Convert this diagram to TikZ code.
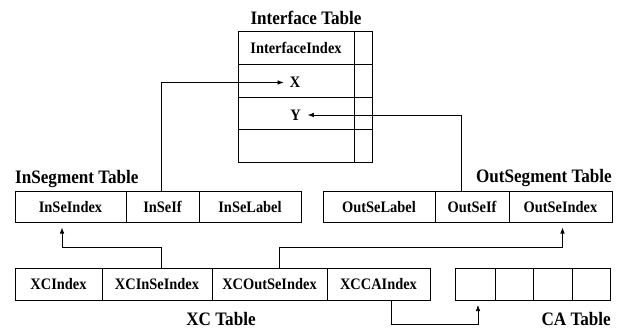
\documentclass[tikz,border=0pt]{standalone}
\usepackage{fontspec}
\setmainfont{Liberation Serif}[FakeStretch=0.9]
\usetikzlibrary{arrows.meta}
\begin{document}
\begin{tikzpicture}[x=1pt,y=-1pt,
  cell/.style={draw, line width=1pt, inner sep=0pt, outer sep=0pt, font=\fontsize{16}{18}\selectfont\bfseries},
  ttl/.style={inner sep=0pt, font=\fontsize{19}{21}\selectfont\bfseries},
  lbl/.style={inner sep=0pt, font=\fontsize{16}{18}\selectfont\bfseries},
  conn/.style={line width=0.6pt, -{Latex[length=6pt,width=4.5pt]}}]
\useasboundingbox (0,0) rectangle (628,329);
% Interface table
\node[ttl, anchor=base] (ititle) at (306,25) {Interface Table};
\node[cell, minimum width=116pt, minimum height=32pt] (if1) at (296,48) {InterfaceIndex};
\node[cell, minimum width=18pt, minimum height=32pt] (if1r) at (363,48) {};
\node[cell, minimum width=116pt, minimum height=33pt] (if2) at (296,80.5) {};
\node[cell, minimum width=18pt, minimum height=33pt] (if2r) at (363,80.5) {};
\node[cell, minimum width=116pt, minimum height=32pt] (if3) at (296,113) {};
\node[cell, minimum width=18pt, minimum height=32pt] (if3r) at (363,113) {};
\node[cell, minimum width=116pt, minimum height=33pt] (if4) at (296,145.5) {};
\node[cell, minimum width=18pt, minimum height=33pt] (if4r) at (363,145.5) {};
\node[lbl] (xl) at (295,82.5) {X};
\node[lbl] (yl) at (295.5,115) {Y};
% InSegment table
\node[ttl, anchor=base west] (intitle) at (15,183) {InSegment Table};
\node[cell, minimum width=111pt, minimum height=31pt] (inidx) at (70.5,207) {InSeIndex};
\node[cell, minimum width=73pt, minimum height=31pt] (inif) at (162.5,207) {InSeIf};
\node[cell, minimum width=102pt, minimum height=31pt] (inlab) at (250,207) {InSeLabel};
% OutSegment table
\node[ttl, anchor=base east] (outtitle) at (612,182) {OutSegment Table};
\node[cell, minimum width=112pt, minimum height=31pt] (outlab) at (379,207) {OutSeLabel};
\node[cell, minimum width=74pt, minimum height=31pt] (outif) at (472,207) {OutSeIf};
\node[cell, minimum width=103pt, minimum height=31pt] (outidx) at (560.5,207) {OutSeIndex};
% XC table
\node[cell, minimum width=87pt, minimum height=32pt] (xc1) at (58.5,284) {XCIndex};
\node[cell, minimum width=110pt, minimum height=32pt] (xc2) at (157,284) {XCInSeIndex};
\node[cell, minimum width=115pt, minimum height=32pt] (xc3) at (269.5,284) {XCOutSeIndex};
\node[cell, minimum width=103pt, minimum height=32pt] (xc4) at (378.5,284) {XCCAIndex};
\node[ttl, anchor=base] (xctitle) at (221,325.5) {XC Table};
% CA table
\node[cell, minimum width=40pt, minimum height=32pt] (ca1) at (475,284) {};
\node[cell, minimum width=38pt, minimum height=32pt] (ca2) at (514,284) {};
\node[cell, minimum width=39pt, minimum height=32pt] (ca3) at (552.5,284) {};
\node[cell, minimum width=38pt, minimum height=32pt] (ca4) at (591,284) {};
\node[ttl, anchor=base east] (catitle) at (611,325.5) {CA Table};
% connectors
\draw[conn] ([xshift=-1.5pt]inif.north) |- ([xshift=-6pt]xl.west);
\draw[conn] ([xshift=-10.5pt]outif.north) |- ([xshift=7pt]yl.east);
\draw[conn, shorten >=5pt] ([xshift=4pt]xc2.north) -- ++(0,-21) -| ([xshift=-8.5pt]inidx.south);
\draw[conn, shorten >=5pt] ([xshift=9.5pt]xc3.north) -- ++(0,-21) -| ([xshift=2pt]outidx.south);
\draw[conn, shorten >=5pt] ([xshift=12.5pt]xc4.south) -- ++(0,24) -| ([xshift=3pt]ca1.south);
\end{tikzpicture}
\end{document}
